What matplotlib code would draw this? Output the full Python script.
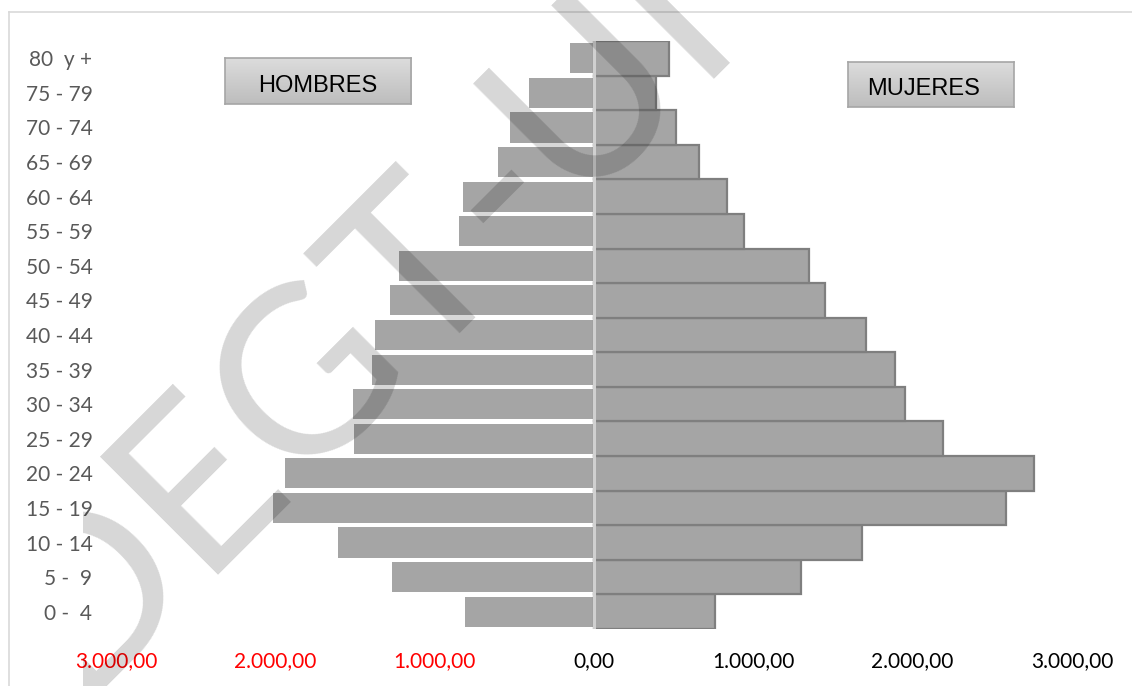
import matplotlib
matplotlib.use("Agg")
import matplotlib.pyplot as plt
import numpy as np
from matplotlib.transforms import Bbox
from matplotlib.colors import LinearSegmentedColormap

# ---- data ----
age_groups = ["0 -  4", "5 -  9", "10 - 14", "15 - 19", "20 - 24", "25 - 29", "30 - 34",
              "35 - 39", "40 - 44", "45 - 49", "50 - 54", "55 - 59", "60 - 64",
              "65 - 69", "70 - 74", "75 - 79", "80  y +"]
hombres = [808, 1270, 1606, 2014, 1939, 1505, 1512, 1392, 1375, 1279, 1224,
           845, 822, 603, 525, 405, 151]
mujeres = [759, 1299, 1683, 2583, 2761, 2188, 1954, 1890, 1706, 1447, 1349,
           940, 837, 656, 514, 390, 473]
x_ticks = [-3000, -2000, -1000, 0, 1000, 2000, 3000]
x_tick_labels = ["3.000,00", "2.000,00", "1.000,00", "0,00", "1.000,00", "2.000,00", "3.000,00"]
watermark = "DEGT-UI"

W, H = 1132, 686
fig = plt.figure(figsize=(W / 100, H / 100), dpi=100)
fig.patch.set_facecolor("white")

def fx(px):
    return px / W

def fy(py):
    return 1 - py / H

# outer border (top & left)
fig.add_artist(plt.Line2D([fx(9), 1.0], [fy(12), fy(12)], color="#d9d9d9", lw=1.2))
fig.add_artist(plt.Line2D([fx(9), fx(9)], [fy(12), 0.0], color="#d9d9d9", lw=1.2))

ax = fig.add_axes([fx(116), fy(629), fx(1072) - fx(116), (629 - 41) / H])
ax.patch.set_alpha(0)
y = np.arange(len(age_groups))

ax.barh(y, [-v for v in hombres], height=0.87, color="#a5a5a5", edgecolor="none", zorder=2)
ax.barh(y, mujeres, height=1.0, color="#a5a5a5", edgecolor="#7f7f7f", linewidth=1.6, zorder=2)
ax.axvline(0, color="#d0d0d0", lw=2.2, zorder=3)

ax.set_xlim(-3000, 3000)
ax.set_ylim(-0.5, len(age_groups) - 0.5)
for s in ax.spines.values():
    s.set_visible(False)

ax.set_yticks(y)
ax.set_yticklabels(age_groups, family="Lato", fontsize=15, color="#595959")
ax.tick_params(axis="y", length=0, pad=17)

ax.set_xticks(x_ticks)
ax.set_xticklabels(x_tick_labels, family="Lato", fontsize=15)
for lbl, v in zip(ax.get_xticklabels(), x_ticks):
    lbl.set_color("#ff0000" if v < 0 else "black")
ax.tick_params(axis="x", length=0, pad=16)

# watermark over the chart, clipped on the left like the reference
wm = fig.text(fx(72), fy(700), watermark, rotation=45, rotation_mode="anchor",
              ha="left", va="baseline", fontsize=168, family="Lato", fontweight="normal",
              color="black", alpha=0.16, zorder=10)
wm.set_clip_box(Bbox([[83, 0], [W, H]]))
wm.set_clip_on(True)

# labelled boxes with gradient
def label_box(x0, y0, x1, y1, text, tx_px, base_px):
    bax = fig.add_axes([fx(x0), fy(y1), fx(x1) - fx(x0), (y1 - y0) / H])
    grad = np.linspace(0, 1, 100).reshape(-1, 1)
    cmap = LinearSegmentedColormap.from_list("g", ["#dcdcdc", "#bdbdbd"])
    bax.imshow(grad, aspect="auto", cmap=cmap, extent=[0, 1, 0, 1], origin="upper")
    bax.set_xticks([]); bax.set_yticks([])
    for s in bax.spines.values():
        s.set_color("#a6a6a6"); s.set_linewidth(1.2)
    fig.text(fx(tx_px), fy(base_px), text, ha="left", va="baseline",
             family="Liberation Sans", fontsize=17, color="black", zorder=5)

label_box(225, 58, 411, 104, "HOMBRES", 258, 92)
label_box(848, 62, 1014, 107, "MUJERES", 867, 95)

fig.savefig("out.png", dpi=100)
